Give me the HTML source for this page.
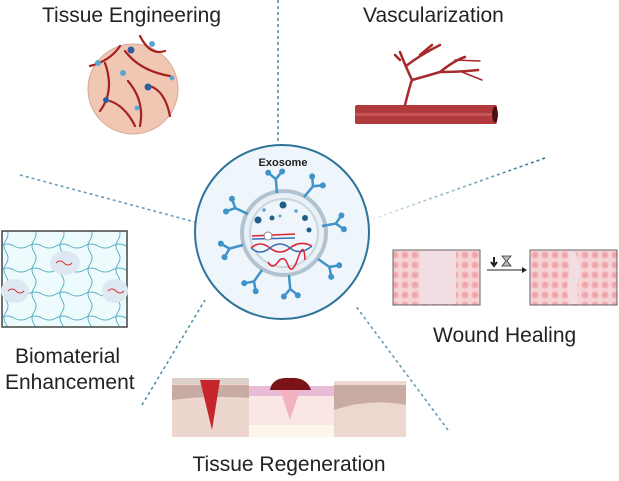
<!DOCTYPE html>
<html><head><meta charset="utf-8"><style>
html,body{margin:0;padding:0;background:#fff;}
body{width:619px;height:476px;overflow:hidden;font-family:"Liberation Sans",sans-serif;}
</style></head><body>
<svg width="619" height="476" viewBox="0 0 619 476" xmlns="http://www.w3.org/2000/svg">
<defs>
<linearGradient id="fadeL" x1="0" x2="1"><stop offset="0" stop-color="#2e7399" stop-opacity="0.15"/><stop offset="1" stop-color="#2e7399"/></linearGradient>
<pattern id="cells" width="10" height="10" patternUnits="userSpaceOnUse"><rect width="10" height="10" fill="#f6d3d5"/><circle cx="5" cy="5" r="3.6" fill="#f1aeb3"/><circle cx="5" cy="5" r="1.5" fill="#eda0a6"/></pattern>
<pattern id="net" width="28" height="24" patternUnits="userSpaceOnUse"><rect width="28" height="24" fill="#eefbfd"/><path d="M0 6 Q7 2 14 6 T28 6" stroke="#5ab4c4" stroke-width="1" fill="none"/><path d="M6 0 Q2 6 6 12 T6 24" stroke="#5ab4c4" stroke-width="1" fill="none"/></pattern>
<g id="rec"><line x1="0" y1="0" x2="0" y2="-14"/><line x1="0" y1="-14" x2="-7" y2="-21"/><line x1="0" y1="-14" x2="7" y2="-21"/><circle cx="-7" cy="-21" r="3" stroke="none"/><circle cx="7" cy="-21" r="3" stroke="none"/></g>
</defs>
<g stroke="#2e7399" stroke-width="1.6" stroke-dasharray="3,3" fill="none">
<line x1="278" y1="0" x2="278" y2="142" stroke-opacity="0.8"/>
<line x1="545" y1="158" x2="373" y2="219" stroke="url(#fadeL)"/>
<line x1="20" y1="175" x2="195" y2="222" stroke-opacity="0.7"/>
<line x1="142" y1="405" x2="205" y2="300" stroke-opacity="0.8"/>
<line x1="448" y1="430" x2="355" y2="305" stroke-opacity="0.7"/>
</g>
<g font-size="21" fill="#222">
<text x="42" y="22">Tissue Engineering</text>
<text x="363" y="22">Vascularization</text>
<text x="433" y="342">Wound Healing</text>
<text x="15" y="363">Biomaterial</text>
<text x="5" y="389">Enhancement</text>
<text x="289" y="471" text-anchor="middle">Tissue Regeneration</text>
</g>
<circle cx="133" cy="89" r="45" fill="#efc7b3" stroke="#d9a892"/>
<g stroke="#a8201f" stroke-width="2.2" fill="none" stroke-linecap="round">
<path d="M90 66 Q110 61 120 46 M105 63 Q115 91 100 111 M125 51 Q140 71 170 76 M140 36 Q150 56 165 51 M128 81 Q145 101 140 126 M150 86 Q165 91 170 116 M110 101 Q125 106 135 126"/>
</g>
<g fill="#2f5e9e"><circle cx="131" cy="50" r="3.5"/><circle cx="148" cy="87" r="3.5"/><circle cx="106" cy="100" r="3"/></g>
<g fill="#5aa7d3"><circle cx="152" cy="44" r="3"/><circle cx="98" cy="63" r="3"/><circle cx="123" cy="73" r="3"/><circle cx="172" cy="78" r="2.5"/><circle cx="137" cy="108" r="2.5"/></g>
<rect x="355" y="105" width="142" height="19" rx="2" fill="#b13a3d"/>
<rect x="355" y="113" width="142" height="3" fill="#c65557"/>
<ellipse cx="495" cy="114.5" rx="3" ry="8" fill="#4a0f12"/>
<g stroke="#a8292b" stroke-width="2.5" fill="none" stroke-linecap="round">
<path d="M405 105 Q410 85 412 80 Q405 65 400 52 M412 80 Q430 75 440 72 Q455 60 465 57 M440 72 Q460 72 478 70 M400 60 L395 55 M406 66 Q420 55 440 45 M420 55 L432 45"/>
<path d="M455 60 L480 61 M462 72 L482 80" stroke-width="1.5"/>
</g>
<circle cx="282" cy="232" r="87" fill="#eef5fb" stroke="#2e7399" stroke-width="2"/>
<text x="283" y="166" font-size="11" font-weight="bold" text-anchor="middle" fill="#222">Exosome</text>
<circle cx="284" cy="233" r="42" fill="#e9f0f6" stroke="#b2c3cf" stroke-width="4"/>
<circle cx="284" cy="233" r="34" fill="#eef5fb" stroke="#c9d6df" stroke-width="2"/>
<g fill="#1f5f87"><circle cx="283" cy="205" r="3.5"/><circle cx="258" cy="220" r="3.5"/><circle cx="305" cy="218" r="3"/><circle cx="272" cy="218" r="2.5"/><circle cx="309" cy="230" r="2.5"/></g>
<g fill="#5aa7d3"><circle cx="264" cy="210" r="1.8"/><circle cx="296" cy="211" r="1.8"/><circle cx="280" cy="216" r="1.5"/></g>
<path d="M252 236 L295 234" stroke="#d23" stroke-width="1.5"/><path d="M252 239 L295 238" stroke="#3a6fb5" stroke-width="1.5"/><ellipse cx="268" cy="236" rx="4" ry="4" fill="#fff" stroke="#888"/>
<path d="M251 248 Q260 240 270 248 T290 248 T312 246" stroke="#d23" stroke-width="1.5" fill="none"/>
<path d="M251 248 Q260 256 270 248 T290 248 T312 246" stroke="#3a6fb5" stroke-width="1.5" fill="none"/>
<path d="M268 262 Q272 270 278 262 T288 265 T298 258 T305 260" stroke="#d23" stroke-width="1.5" fill="none"/>
<g stroke="#3f93c8" stroke-width="2.5" fill="#3f93c8">
<use href="#rec" transform="translate(277,193) rotate(-5)"/>
<use href="#rec" transform="translate(304,197) rotate(40)"/>
<use href="#rec" transform="translate(322,226) rotate(80)"/>
<use href="#rec" transform="translate(318,259) rotate(125)"/>
<use href="#rec" transform="translate(289,275) rotate(175)"/>
<use href="#rec" transform="translate(262,270) rotate(215)"/>
<use href="#rec" transform="translate(243,245) rotate(255)"/>
<use href="#rec" transform="translate(248,214) rotate(295)"/>
</g>
<rect x="2" y="231" width="125" height="96" fill="url(#net)" stroke="#444" stroke-width="1.5"/>
<g><ellipse cx="65" cy="263" rx="15" ry="12" fill="#dde8f2"/><path d="M56 263 q4 -4 8 0 t8 0" stroke="#d33" fill="none"/>
<ellipse cx="15" cy="291" rx="14" ry="12" fill="#dde8f2"/><path d="M8 291 q4 -4 8 0 t8 0" stroke="#d33" fill="none"/>
<ellipse cx="115" cy="291" rx="13" ry="12" fill="#dde8f2"/><path d="M108 291 q4 -4 8 0 t8 0" stroke="#d33" fill="none"/></g>
<rect x="393" y="250" width="87" height="55" fill="url(#cells)" stroke="#666"/>
<rect x="420" y="251" width="36" height="53" fill="#f1dde2"/>
<rect x="530" y="250" width="87" height="55" fill="url(#cells)" stroke="#666"/>
<path d="M567 251 Q572 265 568 280 Q566 295 570 304 L578 304 Q576 285 580 270 Q578 258 575 251Z" fill="#f1dde2"/>
<line x1="487" y1="270" x2="522" y2="270" stroke="#222" stroke-width="1"/><path d="M522 267 L527 270 L522 273Z" fill="#222"/>
<path d="M494 257 V264 M491 262 L494 266 L497 262" stroke="#222" stroke-width="2" fill="none"/>
<path d="M502 256 H511 L507 261 L511 266 H502 L506 261Z" fill="#bbb" stroke="#333" stroke-width="0.8"/>
<rect x="172" y="378" width="77" height="59" fill="#ecd6cd"/>
<rect x="172" y="378" width="77" height="6" fill="#ddd0cb"/>
<path d="M172 385 H249 V398 Q210 395 172 400Z" fill="#c8aca3"/>
<path d="M200 380 H220 L212 430 Z" fill="#c4262b"/>
<rect x="249" y="386" width="85" height="51" fill="#fbe6e6"/>
<rect x="249" y="386" width="85" height="10" fill="#e8bcd7"/>
<path d="M280 390 L300 390 L290 420Z" fill="#f2b2c2"/>
<path d="M270 390 Q272 377 290 378 Q307 377 311 390Z" fill="#7a1418"/>
<rect x="249" y="425" width="85" height="12" fill="#fdf6ea"/>
<rect x="334" y="381" width="72" height="56" fill="#ecd8ce"/>
<path d="M334 385 H406 V405 Q370 398 334 410Z" fill="#c8aca3"/>
</svg>
</body></html>
